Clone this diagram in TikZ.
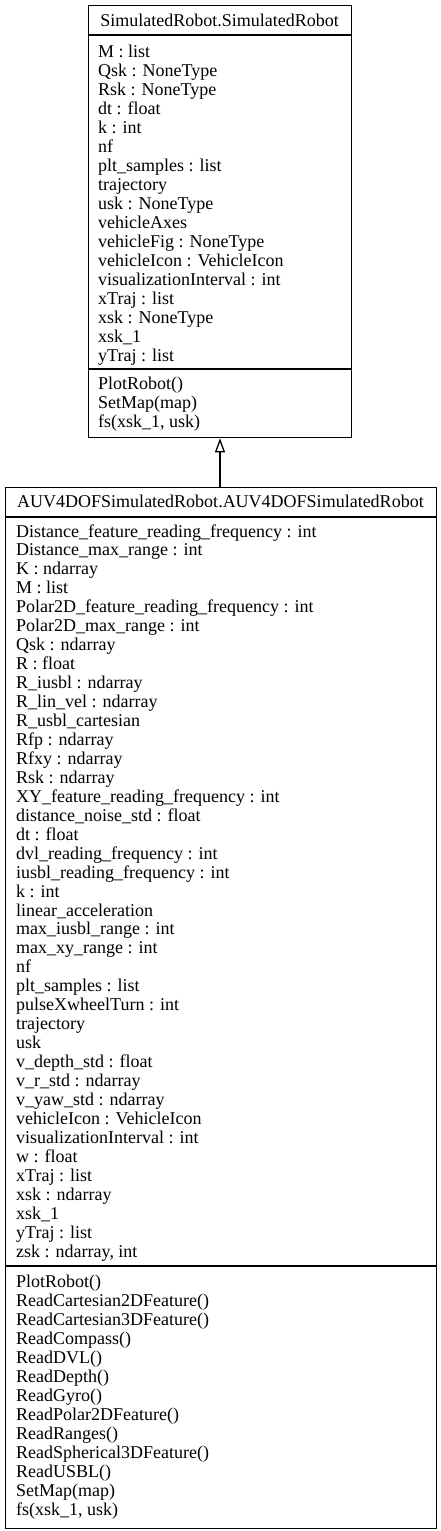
\documentclass[tikz,border=0pt]{standalone}
\usepackage{fontspec}
\setmainfont{Liberation Serif}
\usetikzlibrary{arrows.meta}
\begin{document}
\begin{tikzpicture}[x=1pt,y=-1pt,
  box/.style={draw, line width=1.3pt, inner sep=0pt, anchor=north west},
  sep/.style={line width=1.3pt},
  txt/.style={anchor=base west, inner sep=0pt, font=\fontsize{18}{19}\selectfont},
  ttl/.style={anchor=base, inner sep=0pt, font=\fontsize{18}{19}\selectfont},
  inh/.style={line width=1.3pt, -{Triangle[open, width=10pt, length=14pt, line width=1.3pt]}}]
\useasboundingbox (0,0) rectangle (441,1531);
% superclass
\node[box, minimum width=263pt, minimum height=432pt] (sup) at (88,5) {};
\node[ttl] (supt) at (219.5,27) {SimulatedRobot.SimulatedRobot};
\draw[sep] (sup.west |- 0,35) coordinate (s1a) -- (sup.east |- 0,35) coordinate (s1b);
\draw[sep] (sup.west |- 0,369) coordinate (s2a) -- (sup.east |- 0,369) coordinate (s2b);
\foreach \t [count=\i] in {M : list, Qsk : NoneType, Rsk : NoneType, dt : float, k : int, nf,
  plt\_samples : list, trajectory, usk : NoneType, vehicleAxes, vehicleFig : NoneType,
  vehicleIcon : VehicleIcon, visualizationInterval : int, xTraj : list, xsk : NoneType,
  xsk\_1, yTraj : list}
  \node[txt] (supa\i) at (98,{57+19*(\i-1)}) {\t};
\foreach \t [count=\i] in {PlotRobot(), SetMap(map), {fs(xsk\_1, usk)}}
  \node[txt] (supm\i) at (98,{389+19*(\i-1)}) {\t};
% subclass
\node[box, minimum width=431pt, minimum height=1041pt] (sub) at (5,487) {};
\node[ttl] (subt) at (220.5,507) {AUV4DOFSimulatedRobot.AUV4DOFSimulatedRobot};
\draw[sep] (sub.west |- 0,517) coordinate (b1a) -- (sub.east |- 0,517) coordinate (b1b);
\draw[sep] (sub.west |- 0,1266) coordinate (b2a) -- (sub.east |- 0,1266) coordinate (b2b);
\foreach \t [count=\i] in {Distance\_feature\_reading\_frequency : int, Distance\_max\_range : int,
  K : ndarray, M : list, Polar2D\_feature\_reading\_frequency : int, Polar2D\_max\_range : int,
  Qsk : ndarray, R : float, R\_iusbl : ndarray, R\_lin\_vel : ndarray, R\_usbl\_cartesian,
  Rfp : ndarray, Rfxy : ndarray, Rsk : ndarray, XY\_feature\_reading\_frequency : int,
  distance\_noise\_std : float, dt : float, dvl\_reading\_frequency : int,
  iusbl\_reading\_frequency : int, k : int, linear\_acceleration, max\_iusbl\_range : int,
  max\_xy\_range : int, nf, plt\_samples : list, pulseXwheelTurn : int, trajectory, usk,
  v\_depth\_std : float, v\_r\_std : ndarray, v\_yaw\_std : ndarray, vehicleIcon : VehicleIcon,
  visualizationInterval : int, w : float, xTraj : list, xsk : ndarray, xsk\_1, yTraj : list,
  {zsk : ndarray, int}}
  \node[txt] (suba\i) at (16,{537+18.95*(\i-1)}) {\t};
\foreach \t [count=\i] in {PlotRobot(), ReadCartesian2DFeature(), ReadCartesian3DFeature(),
  ReadCompass(), ReadDVL(), ReadDepth(), ReadGyro(), ReadPolar2DFeature(), ReadRanges(),
  ReadSpherical3DFeature(), ReadUSBL(), SetMap(map), {fs(xsk\_1, usk)}}
  \node[txt] (subm\i) at (16,{1287+19*(\i-1)}) {\t};
% inheritance
\draw[inh] (sub.north -| 220,0) -- (sup.south -| 220,0);
\end{tikzpicture}
\end{document}
